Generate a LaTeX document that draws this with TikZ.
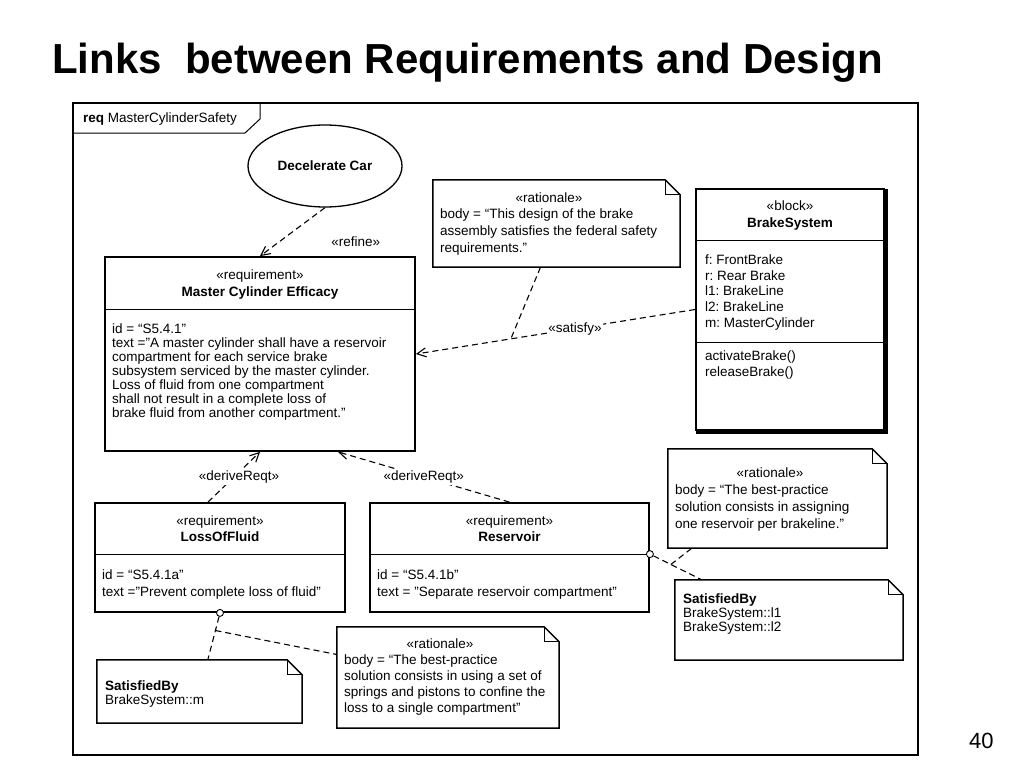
\documentclass[tikz,border=0pt]{standalone}
\usepackage{fontspec}
\setmainfont{Liberation Sans}
\usetikzlibrary{arrows.meta,shapes.geometric}
\frenchspacing

\begin{document}
\begin{tikzpicture}[
    x=1pt, y=-1pt,
    fs/.style={font=\fontsize{13.5}{14}\selectfont},
    block/.style={draw, line width=1.8pt, inner sep=0pt},
    notebox/.style={inner sep=0pt},
    port/.style={circle, draw, fill=white, line width=0.9pt, minimum size=7pt, inner sep=0pt},
    link/.style={dash pattern=on 6pt off 4pt, line width=1.1pt},
    tx/.style={fs, inner sep=0pt, anchor=base west},
    ctx/.style={tx, anchor=base},
    hd/.style={ctx, font=\fontsize{13.5}{14}\selectfont\bfseries},
    lbl/.style={fs, fill=white, inner sep=1.5pt},
    >={Straight Barb[length=9pt, width=9pt]}
]
    \useasboundingbox (0,0) rectangle (1024,768);

    % title and page number
    \node[anchor=base west, inner sep=0pt, font=\fontsize{42}{50}\selectfont\bfseries] (title) at (52,73) {Links\ \ between Requirements and Design};
    \node[anchor=base west, inner sep=0pt, font=\fontsize{22}{26}\selectfont] (page) at (969,748) {40};

    % diagram frame
    \draw[line width=1.8pt] (73,103) rectangle (918,755);
    \draw[line width=1pt] (73,133) -- (245,133) -- (260,119) -- (260,103);
    \node[tx] (frame) at (83,122) {\textbf{req} MasterCylinderSafety};

    % use case
    \node[ellipse, draw, line width=1.3pt, minimum width=154pt, minimum height=82pt, font=\fontsize{13.5}{14}\selectfont\bfseries] (car) at (325,166) {Decelerate Car};

    % top requirement
    \node[block, minimum width=310pt, minimum height=194pt] (mce) at (260,354) {};
    \draw[line width=0.8pt] ([yshift=-53pt]mce.north west) -- ([yshift=-53pt]mce.north east);
    \node[ctx] (mceSt) at (260,279) {«requirement»};
    \node[hd] (mceName) at (260,296) {Master Cylinder Efficacy};
    \foreach \ln [count=\i] in {{id = “S5.4.1”},{text =”A master cylinder shall have a reservoir},{compartment for each service brake},{subsystem serviced by the master cylinder.},{Loss of fluid from one compartment},{shall not result in a complete loss of},{brake fluid from another compartment.”}}
        \node[tx] (mceL\i) at (112,319+14*\i) {\ln};

    % derived requirements
    \node[block, minimum width=250pt, minimum height=109pt] (lof) at (220,557.5) {};
    \draw[line width=0.8pt] ([yshift=-52pt]lof.north west) -- ([yshift=-52pt]lof.north east);
    \node[ctx] (lofSt) at (220,525) {«requirement»};
    \node[hd] (lofName) at (220,541) {LossOfFluid};
    \node[tx] (lofL1) at (102,579) {id = “S5.4.1a”};
    \node[tx] (lofL2) at (102,596) {text =”Prevent complete loss of fluid”};

    \node[block, minimum width=279pt, minimum height=109pt] (res) at (509.5,557.5) {};
    \draw[line width=0.8pt] ([yshift=-52pt]res.north west) -- ([yshift=-52pt]res.north east);
    \node[ctx] (resSt) at (509.5,525) {«requirement»};
    \node[hd] (resName) at (509.5,541) {Reservoir};
    \node[tx] (resL1) at (377,579) {id = “S5.4.1b”};
    \node[tx] (resL2) at (377,596) {text = "Separate reservoir compartment"};

    % design block
    \node[block, minimum width=188pt, minimum height=241pt] (brake) at (790,309.5) {};
    \draw[line width=3pt] ([shift={(1.2pt,-1pt)}]brake.north east) -- ([shift={(1.2pt,-1.2pt)}]brake.south east) -- ([shift={(1pt,-1.2pt)}]brake.south west);
    \draw[line width=0.8pt] ([yshift=-52pt]brake.north west) -- ([yshift=-52pt]brake.north east);
    \draw[line width=0.8pt] ([yshift=-154pt]brake.north west) -- ([yshift=-154pt]brake.north east);
    \node[ctx] (brakeSt) at (790,210) {«block»};
    \node[hd] (brakeName) at (790,227) {BrakeSystem};
    \foreach \ln [count=\i] in {{f: FrontBrake},{r: Rear Brake},{l1: BrakeLine},{l2: BrakeLine},{m: MasterCylinder}}
        \node[tx] (brakeA\i) at (705,249+15.6*\i) {\ln};
    \node[tx] (brakeO1) at (705,360) {activateBrake()};
    \node[tx] (brakeO2) at (705,376) {releaseBrake()};

    % notes
    \node[notebox, minimum width=247pt, minimum height=87pt] (ratA) at (556.5,223.5) {};
    \node[notebox, minimum width=219pt, minimum height=99pt] (ratB) at (777.5,498.5) {};
    \node[notebox, minimum width=222pt, minimum height=101pt] (ratC) at (448,677.5) {};
    \node[notebox, minimum width=228pt, minimum height=80pt] (satA) at (789,620) {};
    \node[notebox, minimum width=205pt, minimum height=63pt] (satB) at (199.5,691.5) {};
    \foreach \n in {ratA,ratB,ratC,satA,satB} {
        \draw[line width=1.5pt] (\n.south west) -- (\n.north west)
            -- ([xshift=-15pt]\n.north east) -- ([yshift=-15pt]\n.north east)
            -- (\n.south east) -- cycle;
        \draw[line width=0.9pt] ([xshift=-15pt]\n.north east) |- ([yshift=-15pt]\n.north east);
    }

    \node[ctx] (ratASt) at (549,202) {«rationale»};
    \foreach \ln [count=\i] in {{body = “This design of the brake},{assembly satisfies the federal safety},{requirements.”}}
        \node[tx] (ratAL\i) at (440,201+17*\i) {\ln};

    \node[ctx] (ratBSt) at (770,477) {«rationale»};
    \foreach \ln [count=\i] in {{body = “The best-practice},{solution consists in assigning},{one reservoir per brakeline.”}}
        \node[tx] (ratBL\i) at (675,477+17*\i) {\ln};

    \node[ctx] (ratCSt) at (440,648) {«rationale»};
    \foreach \ln [count=\i] in {{body = “The best-practice},{solution consists in using a set of},{springs and pistons to confine the},{loss to a single compartment”}}
        \node[tx] (ratCL\i) at (344,648+16*\i) {\ln};

    \node[tx, font=\fontsize{13.5}{14}\selectfont\bfseries] (satAT) at (683,603) {SatisfiedBy};
    \node[tx] (satAL1) at (683,617) {BrakeSystem::l1};
    \node[tx] (satAL2) at (683,631) {BrakeSystem::l2};

    \node[tx, font=\fontsize{13.5}{14}\selectfont\bfseries] (satBT) at (105,690) {SatisfiedBy};
    \node[tx] (satBL1) at (105,704) {BrakeSystem::m};

    % relationships
    \draw[link,->] (car.south) -- (mce.north) node[fs, pos=0.7, anchor=west, xshift=48pt] (refineLbl) {«refine»};
    \draw[link,->] (brake.west) -- coordinate[pos=0.66] (satPt) node[lbl, pos=0.43] (satisfyLbl) {«satisfy»} (mce.east);
    \draw[link] ([xshift=-16pt]ratA.south) -- (satPt);

    \draw[link,->] ([xshift=-12pt]lof.north) -- node[lbl, xshift=5pt] (deriveA) {«deriveReqt»} (mce.south);
    \draw[link,->] (res.north) -- node[lbl] (deriveB) {«deriveReqt»} ([xshift=78pt]mce.south);

    % satisfied-by links
    \node[port] (resPort) at ([yshift=-52pt]res.north east) {};
    \node[port] (lofPort) at (lof.south) {};
    \draw[link] (resPort) -- coordinate[pos=0.36] (resJoin) ([xshift=27pt]satA.north west);
    \draw[link] (resJoin) -- ([xshift=24pt]ratB.south west);
    \draw[link] (lofPort) -- coordinate[pos=0.32] (lofJoin) ([xshift=111pt]satB.north west);
    \draw[link] (lofJoin) -- ([yshift=23pt]ratC.west);

\end{tikzpicture}
\end{document}
